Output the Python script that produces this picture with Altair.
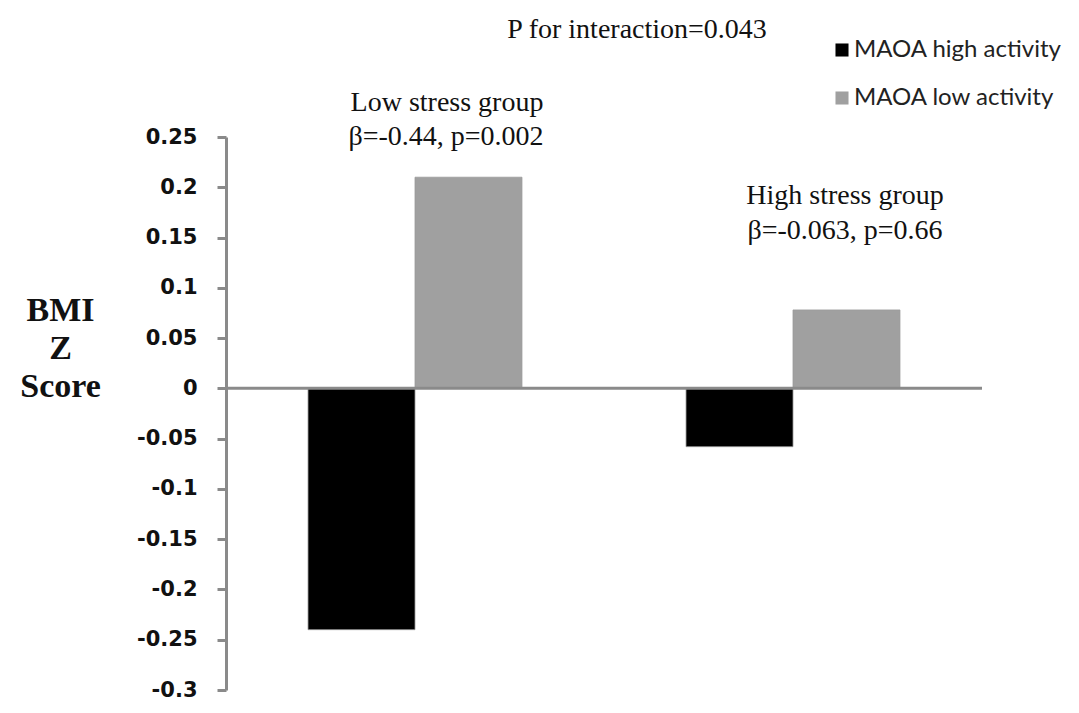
import altair as alt
import pandas as pd

groups = ["Low stress group", "High stress group"]
activity = ["MAOA high activity", "MAOA low activity"]
values_high = [-0.24, -0.058]
values_low = [0.21, 0.078]
y_ticks = [0.25, 0.2, 0.15, 0.1, 0.05, 0, -0.05, -0.1, -0.15, -0.2, -0.25, -0.3]

rows = []
for g, vh, vl in zip(groups, values_high, values_low):
    rows.append({"group": g, "activity": activity[0], "value": vh})
    rows.append({"group": g, "activity": activity[1], "value": vl})
df = pd.DataFrame(rows)

axis_gray = "#8a8a8a"

bars = alt.Chart(df).mark_bar(stroke="#9a9a9a", strokeWidth=0.8).encode(
    x=alt.X("group:N", sort=groups,
            scale=alt.Scale(paddingInner=0.434, paddingOuter=0.217), axis=None),
    xOffset=alt.XOffset("activity:N", sort=activity),
    y=alt.Y("value:Q",
            scale=alt.Scale(domain=[-0.3, 0.25], nice=False, zero=False),
            axis=alt.Axis(values=y_ticks, grid=False,
                          labelExpr="replace(format(datum.value, '~g'), '\u2212', '-')",
                          domainColor=axis_gray, domainWidth=3,
                          tickColor=axis_gray, tickWidth=3, tickSize=9,
                          labelFont="DejaVu Sans", labelFontWeight="bold",
                          labelFontSize=21, labelColor="#111111",
                          labelPadding=20,
                          title=["BMI", "Z", "Score"],
                          titleFont="Liberation Serif", titleFontWeight="bold",
                          titleFontSize=34, titleColor="#111111",
                          titleAngle=0, titleAlign="center", titleBaseline="top",
                          titleX=-166, titleY=156, titleLineHeight=38)),
    color=alt.Color("activity:N", sort=activity,
                    scale=alt.Scale(domain=activity, range=["#000000", "#a0a0a0"]),
                    legend=alt.Legend(title=None, orient="none", legendX=604, legendY=-99,
                                      symbolType="square", symbolSize=170,
                                      symbolStrokeWidth=0, labelFont="Lato",
                                      labelFontSize=24, labelColor="#222222",
                                      labelLimit=0, rowPadding=24, labelOffset=0)),
)

zero = alt.Chart(pd.DataFrame({"z": [0]})).mark_rule(color=axis_gray, strokeWidth=3).encode(
    y="z:Q"
)

def note(text, px, py):
    return alt.Chart(pd.DataFrame({"t": [text]})).mark_text(
        font="Liberation Serif", fontSize=28, color="#111111",
        align="center", baseline="middle"
    ).encode(x=alt.value(px), y=alt.value(py), text="t:N")

notes = [
    note("P for interaction=0.043", 411, -107),
    note("Low stress group", 221, -34),
    note("β=-0.44, p=0.002", 220, 0),
    note("High stress group", 619, 59),
    note("β=-0.063, p=0.66", 619, 94),
]

chart = alt.layer(bars, zero, *notes).properties(
    width=756, height=553,
    autosize=alt.AutoSizeParams(type="none"),
    padding={"left": 218, "top": 129, "right": 80, "bottom": 20},
    background="white",
).configure_view(stroke=None)

chart.save("out.html", embed_options={"renderer": "svg", "actions": False})
